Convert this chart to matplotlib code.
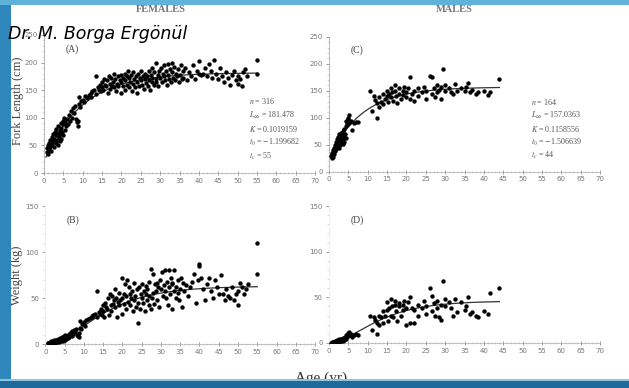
import numpy as np
import matplotlib
matplotlib.use("Agg")
import matplotlib.pyplot as plt
from matplotlib.patches import Rectangle
from matplotlib.ticker import MultipleLocator

plt.rcParams['mathtext.fontset'] = 'stix'

# female fish: (age yr, fork length cm, weight kg)
female_pts = [
    (0.7, 38, 1), (0.8, 45, 1), (1.0, 35, 0.5), (1.0, 50, 1.5), (1.2, 42, 1), (1.3, 55, 2),
    (1.5, 48, 1.5), (1.6, 60, 3), (1.8, 40, 1), (2.0, 52, 2), (2.0, 65, 3), (2.2, 58, 2.5),
    (2.3, 70, 4), (2.5, 47, 1.5), (2.6, 62, 3), (2.8, 75, 5), (3.0, 55, 2), (3.0, 68, 4),
    (3.2, 80, 6), (3.3, 60, 3), (3.5, 72, 5), (3.5, 50, 2), (3.7, 85, 7), (3.8, 65, 3),
    (4.0, 58, 3), (4.0, 78, 6), (4.2, 70, 4), (4.3, 90, 8), (4.5, 62, 3.5), (4.5, 82, 6),
    (4.7, 75, 5), (4.8, 95, 9), (5.0, 68, 4), (5.0, 88, 8), (5.2, 100, 10), (5.3, 78, 6),
    (5.5, 92, 9), (5.8, 85, 7), (6.0, 98, 10), (6.2, 88, 8),
    (6.5, 105, 12), (6.8, 95, 9), (7.0, 112, 14), (7.2, 100, 11), (7.5, 118, 15), (7.8, 108, 13),
    (8.0, 122, 17), (8.2, 98, 10), (8.5, 92, 9), (8.7, 95, 12), (8.8, 85, 8), (9.0, 138, 25),
    (9.0, 125, 18), (9.3, 120, 16), (9.5, 130, 22), (10.0, 132, 24), (10.3, 128, 20),
    (10.5, 140, 26), (11, 135, 27), (11.5, 142, 28), (12, 138, 30), (12, 145, 31), (12.5, 148, 32),
    (13, 150, 33), (13.3, 175, 58), (13.5, 143, 30), (14, 155, 35), (14.2, 150, 33), (14.5, 160, 38),
    (14.8, 148, 32), (15, 155, 36), (15, 165, 42),
    (15.3, 150, 30), (15.5, 170, 45), (15.7, 160, 40), (16, 158, 38), (16.2, 168, 50), (16.5, 145, 32),
    (16.7, 175, 55), (17, 162, 42), (17, 152, 36), (17.3, 172, 52), (17.5, 158, 44), (17.8, 165, 48),
    (18, 180, 60), (18, 155, 40), (18.3, 170, 50), (18.5, 148, 30), (18.8, 162, 46), (19, 175, 56),
    (19.2, 158, 42), (19.5, 168, 48), (19.8, 178, 72), (20, 145, 33), (20, 165, 50), (20.3, 172, 54),
    (20.5, 158, 44), (20.8, 180, 65), (21, 150, 38), (21, 168, 52), (21.3, 175, 70), (21.5, 160, 46),
    (21.8, 185, 62), (22, 155, 42), (22, 172, 55), (22.3, 165, 50), (22.5, 178, 58), (22.7, 148, 36),
    (23, 162, 48), (23, 182, 66), (23.3, 170, 52), (23.5, 155, 40), (23.8, 175, 60), (24, 145, 23),
    (24, 165, 45), (24.2, 180, 62), (24.5, 158, 38), (24.7, 172, 55), (25, 168, 50), (25, 185, 65),
    (25.3, 160, 45), (25.5, 175, 58), (25.8, 152, 36), (26, 170, 54), (26, 180, 63), (26.3, 163, 48),
    (26.5, 175, 60), (26.8, 158, 42), (27, 185, 68), (27, 168, 52), (27.3, 150, 38), (27.5, 178, 82),
    (27.8, 165, 50), (28, 172, 56), (28, 190, 76), (28.3, 160, 44), (28.5, 182, 65), (28.8, 170, 58),
    (29, 200, 66), (29, 165, 48), (29.3, 178, 62), (29.5, 158, 40), (29.8, 185, 70),
    (30, 172, 60), (30.2, 190, 78), (30.5, 165, 52), (30.8, 180, 64), (31, 175, 58), (31, 195, 80),
    (31.3, 168, 50), (31.5, 185, 68), (31.8, 160, 42), (32, 178, 62), (32, 198, 80), (32.3, 170, 55),
    (32.5, 188, 72), (32.8, 165, 38), (33, 182, 65), (33, 200, 66), (33.3, 172, 58), (33.5, 192, 80),
    (33.8, 168, 50), (34, 180, 62), (34.3, 175, 56), (34.5, 188, 70), (34.8, 165, 48), (35, 178, 60),
    (35.3, 195, 72), (35.5, 170, 40), (35.8, 185, 66), (36, 172, 58), (36.5, 190, 64), (37, 168, 52),
    (37.5, 182, 62), (38, 175, 68), (38.5, 195, 76), (39, 170, 45), (39.5, 185, 70), (40, 202, 85),
    (40, 180, 87), (40.5, 178, 72), (41, 180, 60), (41.5, 190, 48),
    (42, 175, 65), (42.5, 198, 72), (43, 185, 58), (43.5, 172, 50), (44, 205, 70), (44.5, 180, 62),
    (45, 170, 54), (45.5, 190, 75), (46, 175, 55), (46.5, 165, 48), (47, 183, 60), (47.5, 172, 52),
    (48, 160, 50), (48.5, 178, 62), (49, 185, 48), (49.5, 168, 55), (50, 162, 42), (50, 176, 58),
    (50.5, 170, 66), (51, 158, 62), (51.5, 182, 55), (52, 188, 60), (52.5, 175, 65), (55, 205, 110),
    (55, 180, 76),
]

# male fish: (age yr, fork length cm, weight kg)
male_pts = [
    (0.5, 30, 0.5), (0.7, 25, 0.5), (0.8, 35, 1), (1.0, 28, 0.5), (1.0, 40, 1), (1.2, 45, 1.5),
    (1.3, 33, 1), (1.5, 50, 2), (1.5, 38, 1), (1.7, 55, 2.5), (1.8, 42, 1.5), (2.0, 48, 2),
    (2.0, 60, 3), (2.2, 52, 2), (2.3, 65, 3.5), (2.5, 45, 1.5), (2.5, 70, 4), (2.7, 58, 3),
    (2.8, 50, 2), (3.0, 62, 3), (3.0, 72, 4.5), (3.2, 55, 2.5), (3.3, 68, 4), (3.5, 52, 2),
    (3.5, 75, 5), (3.7, 60, 3), (3.8, 80, 6), (4.0, 65, 4), (4.0, 55, 3), (4.2, 70, 5),
    (4.3, 85, 7), (4.5, 95, 9), (4.5, 62, 4), (4.7, 90, 8), (4.8, 100, 10), (5.0, 88, 8),
    (5.0, 98, 11), (5.2, 105, 12), (5.5, 92, 9), (5.8, 95, 10), (6.0, 78, 7), (6.5, 90, 9),
    (7.0, 92, 10), (7.5, 92, 9),
    (10.5, 150, 30), (11, 112, 14), (11.5, 140, 28), (12, 133, 25), (12.3, 100, 10), (12.5, 128, 22),
    (13, 120, 20), (13, 138, 30), (13.5, 130, 28), (14, 145, 35), (14, 125, 22), (14.5, 135, 30),
    (15, 140, 36), (15, 150, 45), (15.3, 130, 24), (15.5, 145, 38), (16, 155, 48), (16, 138, 30),
    (16.3, 148, 40), (16.5, 132, 28), (17, 150, 42), (17, 160, 46), (17.3, 140, 35), (17.5, 128, 24),
    (18, 145, 40), (18, 155, 44), (18.5, 135, 30), (19, 150, 42), (19, 142, 36), (19.5, 158, 46),
    (20, 138, 20), (20, 148, 38), (20.5, 155, 45), (21, 176, 50), (21, 135, 22), (21.5, 145, 38),
    (22, 150, 36), (22, 132, 22), (23, 155, 42), (23, 140, 30), (24, 148, 38), (24.5, 158, 46),
    (25, 150, 40), (25, 135, 32), (26, 177, 60), (26.5, 175, 52), (26.5, 145, 35), (27, 155, 44),
    (27.5, 138, 30), (28, 160, 46), (28, 148, 38), (28.5, 152, 28), (29, 135, 25), (29, 158, 42),
    (29.5, 190, 68), (30, 150, 40), (30, 160, 48), (31, 155, 45), (31.5, 148, 38), (32, 145, 30),
    (32.5, 162, 48), (33, 150, 34), (34, 155, 45), (35, 150, 36), (35.5, 158, 40), (36, 165, 50),
    (36.5, 148, 32), (37, 152, 34), (38, 145, 30), (38.5, 148, 28), (40, 150, 35), (41, 142, 32),
    (41.5, 148, 55), (44, 172, 60),
]

# von Bertalanffy parameters printed on the chart; W_inf
fem_par = dict(n=316, Linf=181.478, K=0.1019159, t0=-1.199682, tc=55, Winf=63)
mal_par = dict(n=164, Linf=157.0363, K=0.1158556, t0=-1.506639, tc=44, Winf=46)

TICK_C = '#777777'
TEXT_C = '#555555'


def style_axis(ax, ymax, ystep, yminor, spine_c):
    ax.set_xlim(0, 70)
    ax.set_ylim(0, ymax)
    for s in ('top', 'right'):
        ax.spines[s].set_visible(False)
    ax.spines['left'].set_color(spine_c)
    ax.spines['bottom'].set_color('#aaaaaa')
    ax.spines['left'].set_linewidth(0.6)
    ax.spines['bottom'].set_linewidth(0.5)
    ax.xaxis.set_major_locator(MultipleLocator(5))
    ax.xaxis.set_minor_locator(MultipleLocator(1))
    ax.yaxis.set_major_locator(MultipleLocator(ystep))
    ax.yaxis.set_minor_locator(MultipleLocator(yminor))
    ax.tick_params(which='major', labelsize=5, colors=TICK_C, length=2.5, width=0.5, pad=2)
    ax.tick_params(which='minor', colors='#bbbbbb', length=1.2, width=0.4)
    ax.tick_params(axis='x', which='both', direction='inout')
    for lab in ax.get_xticklabels() + ax.get_yticklabels():
        lab.set_color(TICK_C)


def vb_length(t, p):
    return p['Linf'] * (1 - np.exp(-p['K'] * (t - p['t0'])))


def vb_weight(t, p):
    return p['Winf'] * (1 - np.exp(-p['K'] * (t - p['t0']))) ** 3


fig = plt.figure(figsize=(6.29, 3.88), dpi=100)
fig.patch.set_facecolor('white')

axA = fig.add_axes([0.070, 0.554, 0.431, 0.356])
axC = fig.add_axes([0.523, 0.557, 0.431, 0.348])
axB = fig.add_axes([0.072, 0.113, 0.429, 0.356])
axD = fig.add_axes([0.523, 0.116, 0.431, 0.353])

panels = [
    (axA, female_pts, fem_par, 1, vb_length, 250, 50, 10, '#aaaaaa', '(A)', 232, 0.5),
    (axC, male_pts, mal_par, 1, vb_length, 250, 50, 10, '#aaaaaa', '(C)', 235, 0.5),
    (axB, female_pts, fem_par, 2, vb_weight, 150, 50, 10, '#eeeeee', '(B)', 140, 3),
    (axD, male_pts, mal_par, 2, vb_weight, 150, 50, 10, '#eeeeee', '(D)', 140, 3),
]

for ax, pts, par, col, fn, ymax, ystep, yminor, spc, tag, tag_y, t_start in panels:
    arr = np.array(pts, dtype=float)
    style_axis(ax, ymax, ystep, yminor, spc)
    ax.scatter(arr[:, 0], arr[:, col], s=10, color='black', linewidths=0, zorder=3)
    t = np.linspace(t_start, par['tc'], 200)
    ax.plot(t, fn(t, par), color='#333333', lw=0.9, zorder=2)
    ax.text(5.5, tag_y, tag, fontsize=7, family='Liberation Serif', color='#444444', va='top')

# parameter boxes on the length panels
for ax, par, x0 in [(axA, fem_par, 0.755), (axC, mal_par, 0.745)]:
    lines = [
        r'$n$ = %d' % par['n'],
        r'$L_\infty$ = %s' % par['Linf'],
        r'$K$ = %s' % par['K'],
        r'$t_0$ = $-$%s' % abs(par['t0']),
        r'$t_c$ = %d' % par['tc'],
    ]
    for i, s in enumerate(lines):
        ax.text(x0, 0.52 - i * 0.1, s, transform=ax.transAxes, fontsize=5.8,
                family='Liberation Serif', color=TEXT_C, va='center')

# column titles and axis labels
fig.text(0.255, 0.975, 'FEMALES', ha='center', va='center', fontsize=7.5,
         family='Liberation Serif', weight='bold', color='#777777')
fig.text(0.723, 0.975, 'MALES', ha='center', va='center', fontsize=7.5,
         family='Liberation Serif', weight='bold', color='#777777')
fig.text(0.028, 0.74, 'Fork Length (cm)', rotation=90, ha='center', va='center',
         fontsize=9, family='Liberation Serif', color='#444444')
fig.text(0.027, 0.29, 'Weight (kg)', rotation=90, ha='center', va='center',
         fontsize=9, family='Liberation Serif', color='#444444')
fig.text(0.51, 0.025, 'Age (yr)', ha='center', va='center', fontsize=11,
         family='Liberation Serif', color='#333333', zorder=1)

# watermark
fig.text(0.012, 0.912, 'Dr. M. Borga Ergönül', ha='left', va='center', fontsize=12.5,
         family='DejaVu Sans', style='italic', weight='light', color='black', zorder=6)

# slide frame
fig.patches.append(Rectangle((0, 0), 0.018, 1, transform=fig.transFigure,
                             facecolor='#2f86bb', edgecolor='none', zorder=5))
fig.patches.append(Rectangle((0, 0.988), 1, 0.012, transform=fig.transFigure,
                             facecolor='#5fb2da', edgecolor='none', zorder=5))
fig.patches.append(Rectangle((0, 0), 1, 0.018, transform=fig.transFigure,
                             facecolor='#1f6a9c', edgecolor='none', zorder=5))
fig.patches.append(Rectangle((0, 0.018), 1, 0.004, transform=fig.transFigure,
                             facecolor='#8cc4e2', edgecolor='none', zorder=5))

fig.savefig('out.png', dpi=100)
